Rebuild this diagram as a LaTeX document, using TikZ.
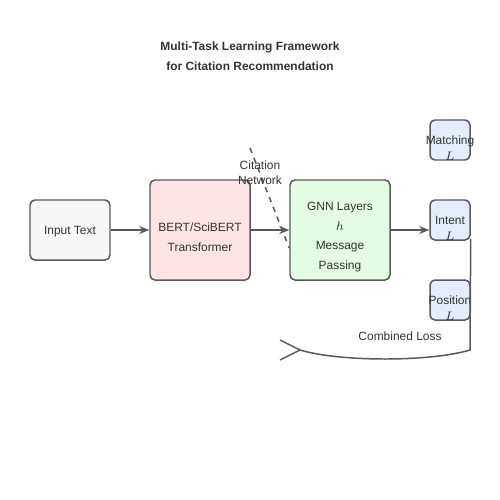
\documentclass[tikz,border=0pt]{standalone}
\usepackage{fontspec}
\setmainfont{Liberation Sans}
\usetikzlibrary{arrows.meta,positioning}
\definecolor{edgegray}{HTML}{595959}
\definecolor{inputfill}{HTML}{F7F7F7}
\definecolor{bertfill}{HTML}{FDE4E4}
\definecolor{gnnfill}{HTML}{E4FBE4}
\definecolor{taskfill}{HTML}{E3EEFA}
\begin{document}
\begin{tikzpicture}[x=0.2mm, y=-0.2mm, font=\fontsize{6.8pt}{11.3pt}\selectfont, text=black!80,
	>={Stealth[length=2mm, width=1.6mm]},
	box/.style={draw=edgegray, line width=0.85pt, rounded corners=1mm, inner sep=0pt},
	conn/.style={draw=edgegray, line width=0.85pt}]
	\useasboundingbox (0,0) rectangle (500,500);
	% title
	\node[font=\fontsize{6.8pt}{11.3pt}\selectfont\bfseries, align=center] (title) at (250,56) {Multi-Task Learning Framework\\for Citation Recommendation};
	% main pipeline
	\node[box, fill=inputfill, minimum width=16mm, minimum height=12mm] (input) at (70,230) {};
	\node (inputtxt) at (70,231.5) {Input Text};
	\node[box, fill=bertfill, minimum size=20mm] (bert) at (200,230) {};
	\node[align=center] (berttxt) at (200,237) {BERT/SciBERT\\Transformer};
	\node[box, fill=gnnfill, minimum size=20mm] (gnn) at (340,230) {};
	\node[align=center] (gnntxt) at (340,237) {GNN Layers\\$h$\\Message\\Passing};
	% task heads
	\foreach \n/\t/\y in {match/Matching/140, intent/Intent/220, pos/Position/300}{
		\node[box, fill=taskfill, minimum size=8mm] (\n) at (450,\y) {};
		\node[anchor=base, inner sep=0pt] (\n-txt) at (450,\y+4.5) {\t};
		\node[anchor=base, inner sep=0pt] (\n-L) at (450,\y+20) {$L$};
	}
	\draw[conn, ->] (input) -- (bert);
	\draw[conn, ->] (bert) -- (gnn);
	\draw[conn, ->] (gnn.east) -- (gnn.east -| intent.west);
	% citation network input
	\coordinate (cnstart) at (250,148);
	\coordinate (cnend) at ([yshift=-3.6mm]gnn.west);
	\draw[conn, dashed] (cnstart) -- (cnend);
	\node[align=center, font=\fontsize{6.8pt}{8.5pt}\selectfont] (cntxt) at (260,173) {Citation\\Network};
	% combined loss
	\coordinate (lossstart) at ([yshift=0.4mm]intent.south east);
	\coordinate (tip) at (300,350);
	\coordinate (tipa) at (280,340);
	\coordinate (tipb) at (280,360);
	\draw[conn] (lossstart) -- (470,350) .. controls (430,362) and (340,362) .. (tip);
	\draw[conn] (tipa) -- (tip) -- (tipb);
	\node (losstxt) at (400,336) {Combined Loss};
\end{tikzpicture}
\end{document}
